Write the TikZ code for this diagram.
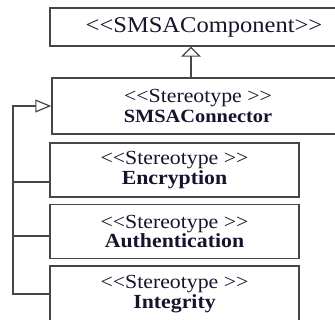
\documentclass[tikz,border=0pt]{standalone}
\usepackage{fontspec}
\setmainfont[FakeStretch=1.09]{Liberation Serif}
\usepackage{tikz}
\usetikzlibrary{arrows.meta}
\usetikzlibrary{calc}
\definecolor{boxline}{RGB}{70,70,70}
\definecolor{stereotext}{RGB}{20,20,45}
\newcommand{\ltlt}{{<}{<}}
\newcommand{\gtgt}{{>}{>}}
\tikzset{stereobox/.style={rectangle, draw=boxline, line width=1.5pt, align=center,
    text=stereotext, font=\fontsize{20}{19.5}\selectfont, inner sep=0pt}}
\tikzset{generalize/.style={draw=boxline, line width=1.5pt,
    -{Triangle[open, length=10pt, width=20pt, line width=1.2pt]}}}

\begin{document}
\begin{tikzpicture}[x=1pt,y=-1pt]
  \useasboundingbox (0,0) rectangle (335,320);
  \clip (0,0) rectangle (335,320);
  \node[stereobox, minimum width=308pt, minimum height=38pt,
    font=\fontsize{22.5}{25}\selectfont] (comp) at (204,27) {\ltlt SMSAComponent\gtgt};
  \node[stereobox, minimum width=292pt, minimum height=56pt] (conn) at (198,106)
    {\ltlt Stereotype \gtgt\\ \fontsize{18.7}{19.5}\selectfont\textbf{SMSAConnector}};
  \foreach \y/\h/\lab/\name in {
    170/54/enc/Encryption,
    231.5/54/auth/Authentication,
    294/56/integ/Integrity%
  } {
    \node[stereobox, minimum width=249pt, minimum height=\h pt] (\lab) at (174.5,\y)
      {\ltlt Stereotype \gtgt\\ \textbf{\name}};
  }
  \coordinate (trunk) at (13,0);
  \draw[generalize] ([xshift=-7pt]conn.north) -- ([xshift=-7pt]conn.north |- comp.south);
  \draw[generalize, -{Triangle[open, length=16pt, width=13pt, line width=1.2pt]}]
    (integ.west) -- (integ.west -| trunk) |- (conn.west);
  \foreach \lab/\dy in {enc/-12, auth/-4.5} {
    \draw[draw=boxline, line width=1.5pt] ([yshift=\dy pt]\lab.west) -- ([yshift=\dy pt]\lab.west -| trunk);
  }
\end{tikzpicture}
\end{document}
